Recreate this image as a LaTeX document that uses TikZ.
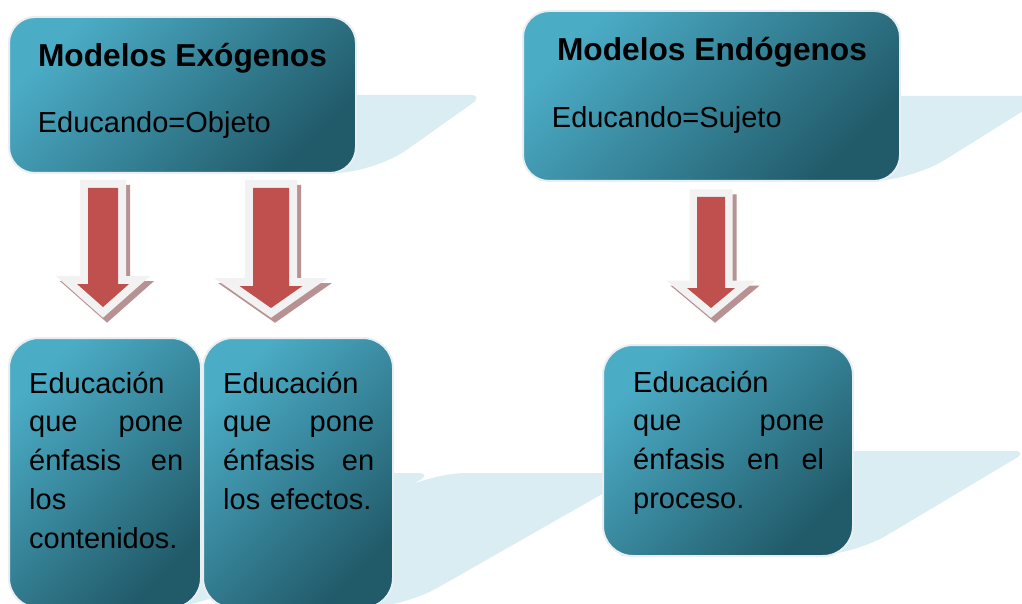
\documentclass[tikz,border=0pt]{standalone}
\usepackage{fontspec}
\setmainfont{Liberation Sans}
\definecolor{tealL}{HTML}{4BACC6}
\definecolor{tealD}{HTML}{215A69}
\definecolor{shadowblue}{HTML}{DAEDF2}
\definecolor{arrowred}{HTML}{C0504D}
\definecolor{arrowrim}{HTML}{F2F2F2}
\definecolor{arrowshade}{HTML}{B89192}
\definecolor{boxrim}{HTML}{E9EFF1}
\newcommand\blockarrowpath[6]{({#1-#3},#2) -- ({#1+#3},#2) -- ({#1+#3},#5) -- ({#1+#4},#5) -- (#1,#6) -- ({#1-#4},#5) -- ({#1-#3},#5) -- cycle}
\newcommand\blockarrow[7]{%
  \draw[arrowshadowstyle, line width=#7] [shift={(4,5)}] \blockarrowpath{#1}{#2}{#3}{#4}{#5}{#6};
  \draw[arrowrimstyle, line width=#7] \blockarrowpath{#1}{#2}{#3}{#4}{#5}{#6};
  \fill[arrowred] \blockarrowpath{#1}{#2}{#3}{#4}{#5}{#6};
}
\tikzset{
  mbox/.style={rectangle, rounded corners=26pt, inner sep=0pt, draw=boxrim, line width=2pt,
    top color=tealL, bottom color=tealD, shading angle=45},
  shadowshape/.style={fill=shadowblue},
  arrowshadowstyle/.style={draw=arrowshade, fill=arrowshade, line join=miter},
  arrowrimstyle/.style={draw=arrowrim, fill=arrowrim, line join=miter},
  titletext/.style={inner sep=0pt, font=\fontsize{31.7}{38}\selectfont\bfseries, anchor=base},
  subtext/.style={inner sep=0pt, font=\fontsize{29}{38.8}\selectfont, anchor=base west},
  bodytext/.style={inner sep=0pt, font=\fontsize{29}{38.8}\selectfont, anchor=base west, align=left},
}
\begin{document}
\begin{tikzpicture}[x=1pt, y=-1pt]
\useasboundingbox (0,0) rectangle (1022,604);
\clip (0,0) rectangle (1022,604);
\fill[white] (0,0) rectangle (1022,604);

% shadows
\fill[shadowshape] (30,173) -- (150,95) [rounded corners=14pt] -- (484,95) [rounded corners=40pt] -- (374,173) [sharp corners] -- cycle;
\fill[shadowshape] (540,181) -- (680,96) [rounded corners=14pt] -- (1047,96) [rounded corners=40pt] -- (911,181) [sharp corners] -- cycle;
\fill[shadowshape] (20,608) -- (230,473) [rounded corners=14pt] -- (432,473) [rounded corners=40pt] -- (200,608) [sharp corners] -- cycle;
\fill[shadowshape] (215,608) [rounded corners=45pt] -- (422,473) [rounded corners=14pt] -- (639,473) [rounded corners=40pt] -- (402,608) [sharp corners] -- cycle;
\fill[shadowshape] (620,556) -- (790,451) [rounded corners=14pt] -- (1028,451) [rounded corners=40pt] -- (852,556) [sharp corners] -- cycle;

% boxes
\node[mbox, minimum width=347pt, minimum height=156pt] (exo) at (182.5,95) {};
\node[mbox, minimum width=377pt, minimum height=170pt] (endo) at (711.5,96) {};
\node[mbox, minimum width=192pt, minimum height=270pt, rounded corners=30pt] (cont) at (105,473) {};
\node[mbox, minimum width=190pt, minimum height=270pt, rounded corners=30pt] (efec) at (298,473) {};
\node[mbox, minimum width=250pt, minimum height=211pt, rounded corners=30pt] (proc) at (728,450.5) {};

% arrows
\blockarrow{103}{188}{15}{26}{284}{307}{16pt}
\blockarrow{271}{188}{18}{31.5}{286}{308}{16pt}
\blockarrow{711}{197}{14}{24}{288}{308}{15pt}

% texts
\node[titletext] (exot) at (182.5,67) {Modelos Exógenos};
\node[subtext] (exos) at (37.7,133) {Educando=Objeto};
\node[titletext] (endot) at (712,61) {Modelos Endógenos};
\node[subtext] (endos) at (551.7,128) {Educando=Sujeto};

\node[bodytext, text width=154pt] (contt) at (29,393)
  {Educación\\que\hfill pone\\énfasis\hfill en\\los\\contenidos.};
\node[bodytext, text width=151pt] (efect) at (223,393)
  {Educación\\que\hfill pone\\énfasis\hfill en\\los efectos.};
\node[bodytext, text width=191pt] (proct) at (633,392)
  {Educación\\que\hfill pone\\énfasis\hfill en\hfill el\\proceso.};
\end{tikzpicture}
\end{document}
